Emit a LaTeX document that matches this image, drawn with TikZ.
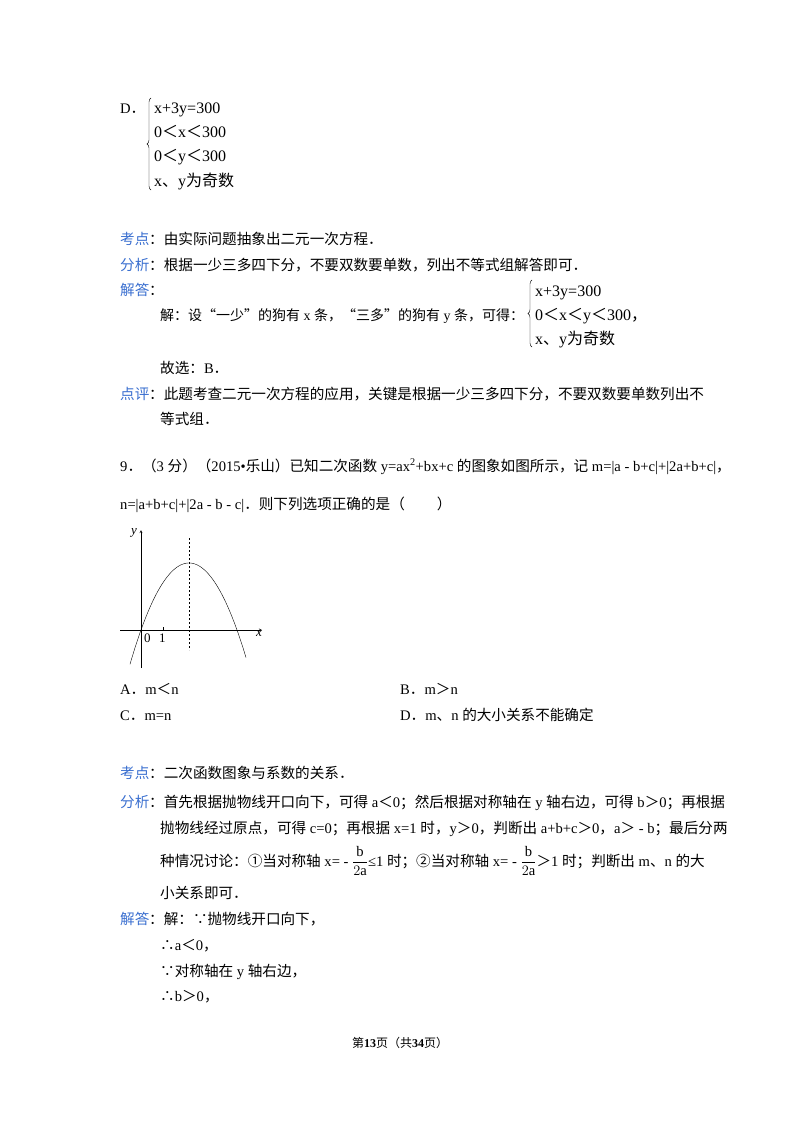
\documentclass[tikz,border=0pt]{standalone}
\usepackage{fontspec}
\usetikzlibrary{decorations.pathreplacing}
\setmainfont{Liberation Serif}
\newfontfamily\cjk{Noto Sans CJK SC}
\XeTeXinterchartokenstate=1
\newXeTeXintercharclass\CJKcls
\newcount\cc
\def\setrange#1#2{\cc=#1 \loop\XeTeXcharclass\cc=\CJKcls\ifnum\cc<#2 \advance\cc 1 \repeat}
\setrange{"4E00}{"9FFF}
\setrange{"3000}{"303F}
\setrange{"FF00}{"FFEF}
\setrange{"2460}{"2473}
\XeTeXcharclass"201C=\CJKcls \XeTeXcharclass"201D=\CJKcls
\XeTeXcharclass"2234=\CJKcls \XeTeXcharclass"2235=\CJKcls
\XeTeXinterchartoks 0 \CJKcls={\cjk}
\XeTeXinterchartoks 4095 \CJKcls={\cjk}
\XeTeXinterchartoks \CJKcls 0={\rmfamily}
\XeTeXinterchartoks \CJKcls 4095={\rmfamily}
\definecolor{lab}{HTML}{3A6FD0}
\newcommand\bfr{$\displaystyle\frac{\mathrm{b}}{2\mathrm{a}}$}
\begin{document}
\begin{tikzpicture}[x=1pt,y=-1pt,
  t/.style={anchor=base west,inner sep=0pt,font=\fontsize{14.6}{16}\selectfont},
  L/.style={t,text=lab},
  sy/.style={anchor=base west,inner sep=0pt,font=\fontsize{16}{18}\selectfont},
  br/.style={decorate,decoration={brace,amplitude=4pt,mirror}}]
\useasboundingbox[fill=white] (0,0) rectangle (800,1132);
% D option
\node[t] (d) at (120,113) {D．};
\draw[br] (151,98) -- (151,190);
\node[sy] (d1) at (154,113) {x+3y=300};
\node[sy] (d2) at (154,137) {0＜x＜300};
\node[sy] (d3) at (154,161) {0＜y＜300};
\node[sy] (d4) at (154,186) {x、y为奇数};
% analysis 8
\node[L] (k1) at (120,244) {考点};
\node[t] (k1t) at (149,244) {：由实际问题抽象出二元一次方程．};
\node[L] (f1) at (120,270) {分析};
\node[t] (f1t) at (149,270) {：根据一少三多四下分，不要双数要单数，列出不等式组解答即可．};
\node[L] (j1) at (120,295) {解答};
\node[t] (j1c) at (149,295) {：};
\node[t,font=\fontsize{14}{16}\selectfont] (j1t) at (160,320) {解：设“一少”的狗有 x 条，“三多”的狗有 y 条，可得：};
\draw[br] (532,280) -- (532,347);
\node[sy] (s1) at (535,296) {x+3y=300};
\node[sy] (s2) at (535,320) {0＜x＜y＜300，};
\node[sy] (s3) at (535,344) {x、y为奇数};
\node[t] (gx) at (160,373) {故选：B．};
\node[L] (p1) at (120,399) {点评};
\node[t] (p1t) at (149,399) {：此题考查二元一次方程的应用，关键是根据一少三多四下分，不要双数要单数列出不};
\node[t] (p1u) at (160,424) {等式组．};
% question 9
\node[t] (q9) at (120,471) {9．（3 分）（2015•乐山）已知二次函数 y=ax\textsuperscript{2}+bx+c 的图象如图所示，记 m=|a - b+c|+|2a+b+c|，};
\node[t] (q9b) at (120,509) {n=|a+b+c|+|2a - b - c|．则下列选项正确的是（\hspace{2.2em}）};
% graph
\coordinate (o) at (141,630);
\draw[->,>=stealth] (141,668) -- (141,530);
\draw[->,>=stealth] (120,630) -- (262,630);
\draw[dash pattern=on 2pt off 2pt] (189,538) -- (189,650);
\draw[domain=130:246,samples=60,smooth] plot (\x,{630-0.0291*(\x-141)*(237-\x)});
\draw (163,627) -- (163,630);
\node[t,font=\fontsize{13}{14}\selectfont] (n0) at (144,642) {0};
\node[t,font=\fontsize{13}{14}\selectfont] (n1) at (159,642) {1};
\node[t,font=\itshape\fontsize{13}{14}\selectfont] (ly) at (131,534) {y};
\node[t,font=\itshape\fontsize{13}{14}\selectfont] (lx) at (256,636) {x};
% choices
\node[t] (ca) at (120,694) {A．m＜n};
\node[t] (cb) at (400,694) {B．m＞n};
\node[t] (cc) at (120,720) {C．m=n};
\node[t] (cd) at (400,720) {D．m、n 的大小关系不能确定};
% analysis 9
\node[L] (k2) at (120,778) {考点};
\node[t] (k2t) at (149,778) {：二次函数图象与系数的关系．};
\node[L] (f2) at (120,807) {分析};
\node[t] (f2t) at (149,807) {：首先根据抛物线开口向下，可得 a＜0；然后根据对称轴在 y 轴右边，可得 b＞0；再根据};
\node[t] (f2u) at (160,833) {抛物线经过原点，可得 c=0；再根据 x=1 时，y＞0，判断出 a+b+c＞0，a＞ - b；最后分两};
\node[t] (f2v) at (160,866) {种情况讨论：①当对称轴 x= - \bfr≤1 时；②当对称轴 x= - \bfr＞1 时；判断出 m、n 的大};
\node[t] (f2w) at (160,898) {小关系即可．};
\node[L] (j2) at (120,924) {解答};
\node[t] (j2t) at (149,924) {：解：∵抛物线开口向下，};
\node[t] (a1) at (160,950) {∴a＜0，};
\node[t] (a2) at (160,976) {∵对称轴在 y 轴右边，};
\node[t] (a3) at (160,1001) {∴b＞0，};
% footer
\node[anchor=base,inner sep=0pt,font=\fontsize{12}{14}\selectfont] (ft) at (400,1047) {第\textbf{13}页（共\textbf{34}页）};
\end{tikzpicture}
\end{document}
